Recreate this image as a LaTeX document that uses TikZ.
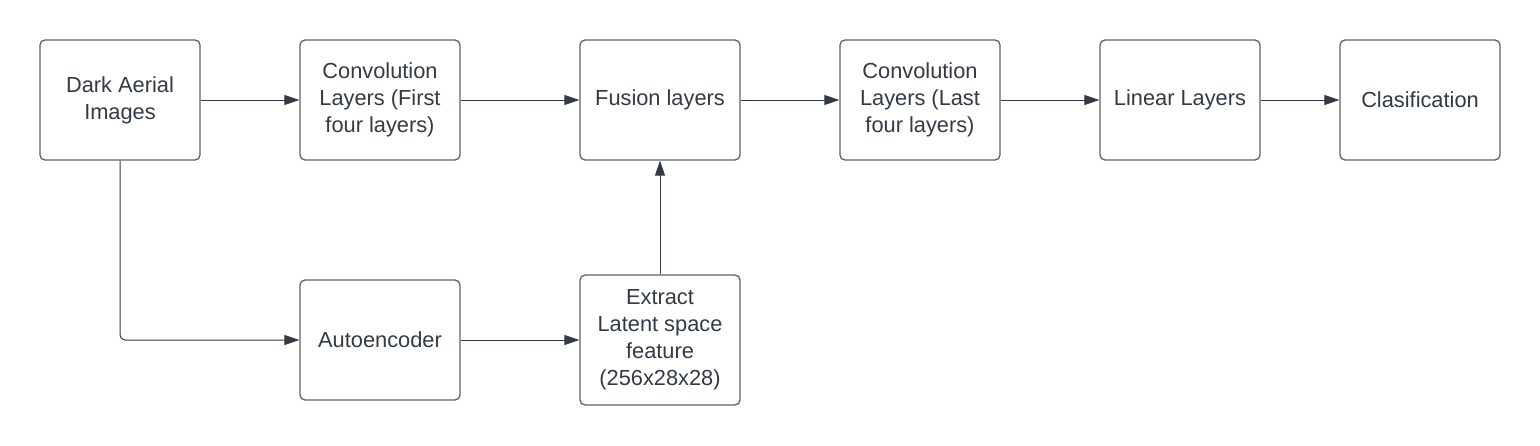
\documentclass[tikz,border=0pt]{standalone}
\usepackage{fontspec}
\setmainfont{Liberation Sans}
\usetikzlibrary{arrows.meta}
\definecolor{txt}{HTML}{333A45}
\definecolor{bord}{HTML}{5F6368}
\tikzset{
  blk/.style={draw=bord, line width=1.3pt, rounded corners=5pt, fill=white,
    text=txt, align=center, font=\fontsize{21.8}{27}\selectfont, inner sep=0pt},
  conn/.style={draw=txt, line width=1pt, -{Triangle[length=15pt,width=10pt]}}
}
\begin{document}
\begin{tikzpicture}[x=1pt,y=-1pt]
\useasboundingbox[fill=white] (0,0) rectangle (1540,445);
\node[blk, minimum width=160pt, minimum height=120pt] (dark) at (120,100) {Dark Aerial\\Images};
\node[blk, minimum width=160pt, minimum height=120pt] (conv1) at (380,100) {Convolution\\Layers (First\\four layers)};
\node[blk, minimum width=160pt, minimum height=120pt] (fus) at (660,100) {Fusion layers};
\node[blk, minimum width=160pt, minimum height=120pt] (conv2) at (920,100) {Convolution\\Layers (Last\\four layers)};
\node[blk, minimum width=160pt, minimum height=120pt] (lin) at (1180,100) {Linear Layers};
\node[blk, minimum width=160pt, minimum height=120pt] (cls) at (1420,100) {Clasification};
\node[blk, minimum width=160pt, minimum height=120pt] (ae) at (380,340) {Autoencoder};
\node[blk, minimum width=160pt, minimum height=130pt] (ext) at (660,340) {Extract\\Latent space\\feature\\(256x28x28)};
\draw[conn] (dark) -- (conv1);
\draw[conn] (conv1) -- (fus);
\draw[conn] (fus) -- (conv2);
\draw[conn] (conv2) -- (lin);
\draw[conn] (lin) -- (cls);
\draw[conn, rounded corners=5pt] (dark.south) |- (ae.west);
\draw[conn] (ae) -- (ext);
\draw[conn] (ext) -- (fus);
\end{tikzpicture}
\end{document}
